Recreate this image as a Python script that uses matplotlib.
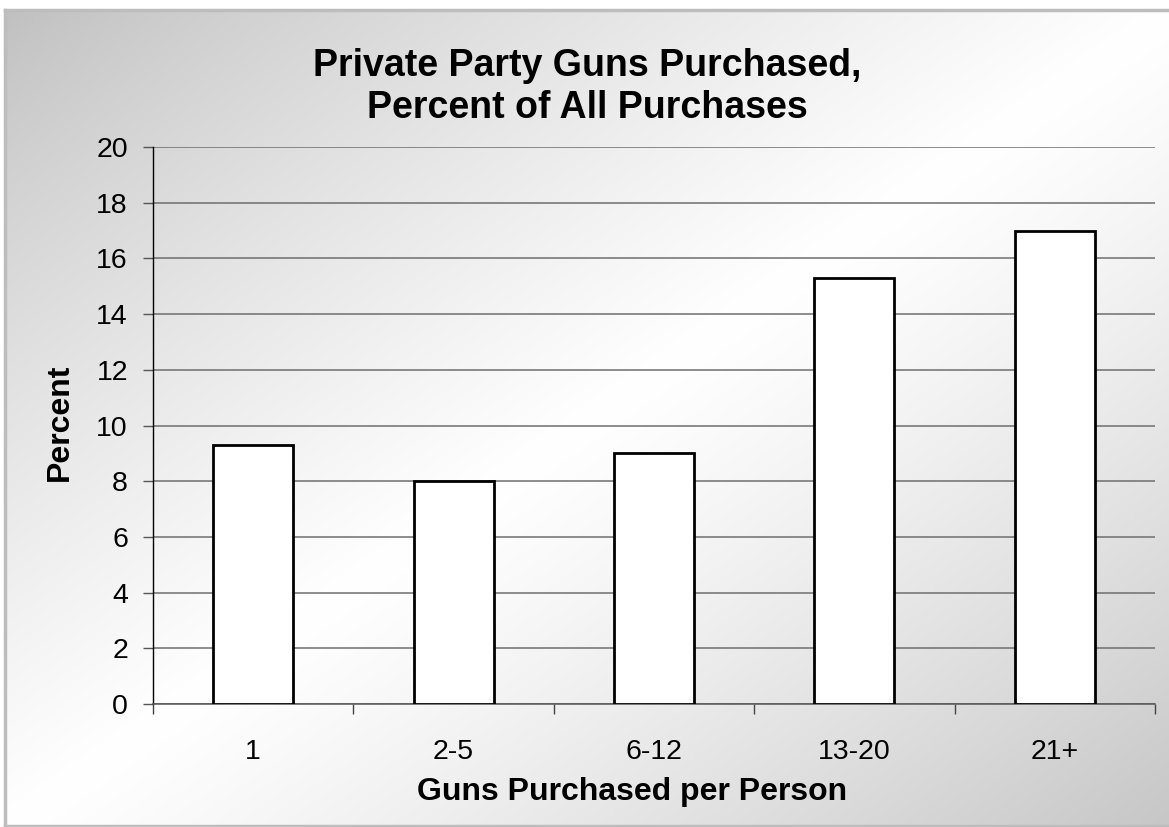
import matplotlib
matplotlib.use("Agg")
import matplotlib.pyplot as plt
import numpy as np
from matplotlib.ticker import FixedLocator

categories = ["1", "2-5", "6-12", "13-20", "21+"]
percent = [9.3, 8.0, 9.0, 15.3, 17.0]
yticks = [0, 2, 4, 6, 8, 10, 12, 14, 16, 18, 20]

title = "Private Party Guns Purchased,\nPercent of All Purchases"
xlabel = "Guns Purchased per Person"
ylabel = "Percent"

W, H = 1169, 827
fig = plt.figure(figsize=(W / 100, H / 100), dpi=100)
fig.patch.set_facecolor("white")

# background panel with diagonal gradient
bg = fig.add_axes([5 / W, 1 / H, 1 - 5 / W, 1 - 11 / H], zorder=0)
ny, nx = 200, 300
xx, yy = np.meshgrid(np.linspace(0, 1, nx), np.linspace(0, 1, ny))
t = (xx + yy) / 2.0
lo, hi = 0.75, 0.78
val = np.where(t < 0.5, lo + (1 - lo) * (t / 0.5) ** 0.8,
               1 - (1 - hi) * ((t - 0.5) / 0.5) ** 1.2)
bg.imshow(np.dstack([val, val, val]), aspect="auto", extent=[0, 1, 0, 1],
          origin="upper", interpolation="bilinear")
bg.set_xlim(0, 1)
bg.set_ylim(0, 1)
bg.set_xticks([])
bg.set_yticks([])
for s in ["top", "left", "bottom"]:
    bg.spines[s].set_color("#bdbdbd")
    bg.spines[s].set_linewidth(2.5)
bg.spines["right"].set_visible(False)

ax = fig.add_axes([153 / W, (H - 704) / H, (1155 - 153) / W, (704 - 147) / H], zorder=2)
ax.patch.set_alpha(0)

x = np.arange(len(categories))
ax.bar(x, percent, width=0.4, color="white", edgecolor="black", linewidth=2, zorder=3)

ax.set_xlim(-0.5, len(categories) - 0.5)
ax.set_ylim(0, 20)
ax.set_yticks(yticks)
ax.yaxis.grid(True, color="#6e6e6e", linewidth=1.1)
ax.set_axisbelow(True)

ax.set_xticks(x)
ax.set_xticklabels(categories)
ax.xaxis.set_minor_locator(FixedLocator(np.arange(-0.5, len(categories), 1.0)))
ax.tick_params(axis="x", which="major", length=0, pad=25, labelsize=20.5)
ax.tick_params(axis="x", which="minor", length=7, width=1, color="#444444", direction="out")
ax.tick_params(axis="y", length=7, width=1, color="#555555", pad=11, labelsize=20.5)

for s in ["top", "right"]:
    ax.spines[s].set_visible(False)
ax.spines["left"].set_color("black")
ax.spines["left"].set_linewidth(1)
ax.spines["bottom"].set_color("#555555")
ax.spines["bottom"].set_linewidth(1.1)

for lab in ax.get_xticklabels() + ax.get_yticklabels():
    lab.set_fontfamily("Liberation Sans")

fig.text(587 / W, 1 - 87 / H, title, ha="center", va="center", fontsize=27,
         fontweight="bold", family="Liberation Sans", linespacing=1.22)
fig.text(632 / W, 1 - 792 / H, xlabel, ha="center", va="center", fontsize=23,
         fontweight="bold", family="Liberation Sans")
fig.text(60 / W, 1 - 422 / H, ylabel, ha="center", va="center", fontsize=23,
         fontweight="bold", family="Liberation Sans", rotation=90)

fig.savefig("out.png", dpi=100)
